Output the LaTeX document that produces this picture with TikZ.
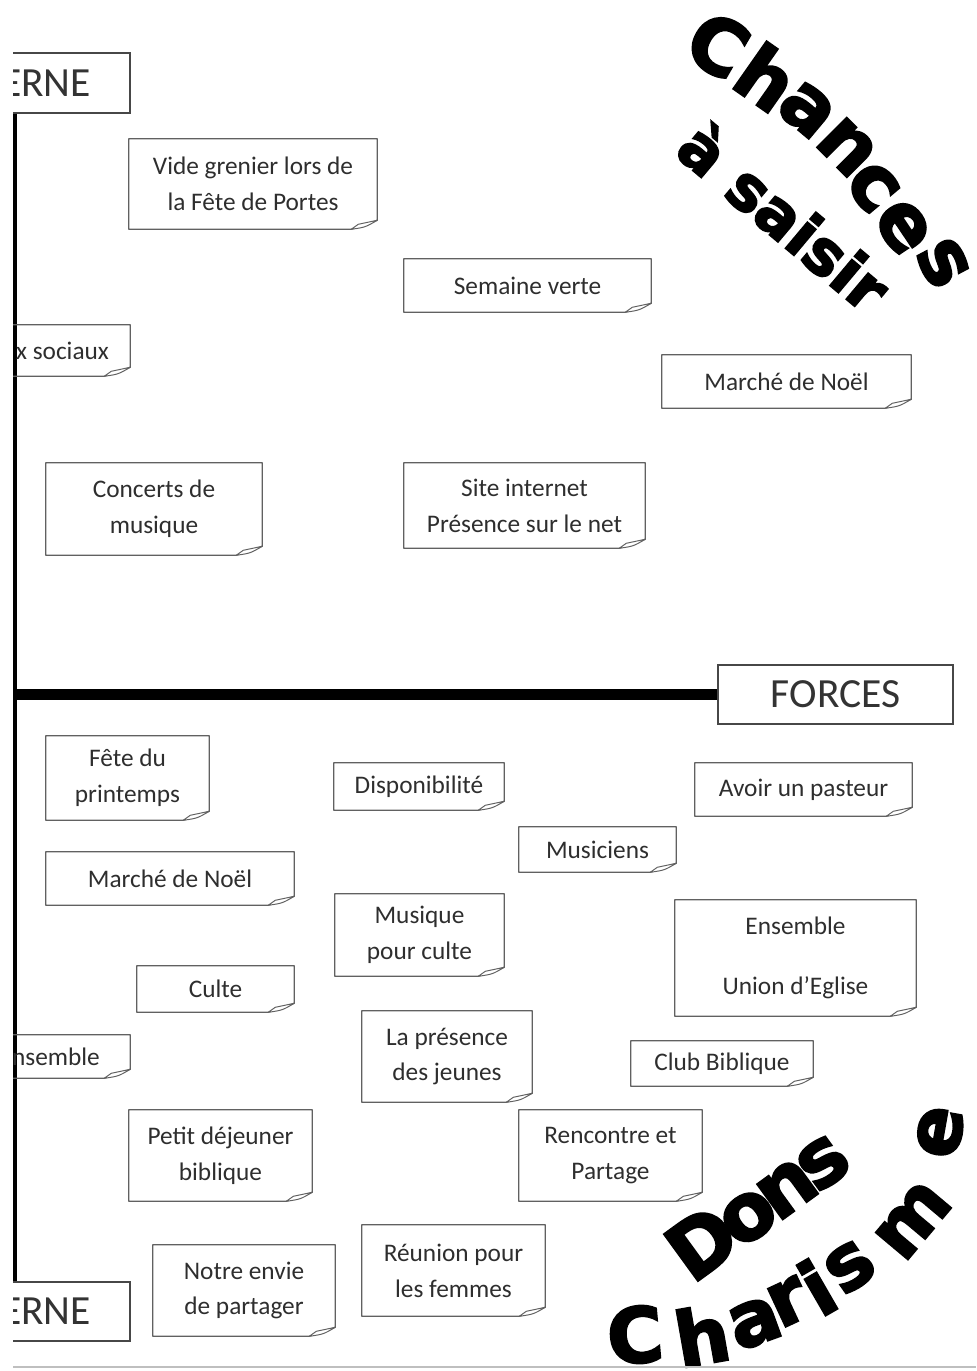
\documentclass[tikz,border=0pt]{standalone}
\usepackage{fontspec}
\setmainfont{Carlito}
\newfontfamily\heavyfont{DejaVu Sans Bold}[FakeBold=3]
\newfontfamily\tightfont{DejaVu Sans Bold}[FakeBold=3,LetterSpace=-9]

\begin{document}
\begin{tikzpicture}[x=0.025cm,y=-0.025cm,
	note/.style={inner sep=0pt,align=center,text=black!82,font=\fontsize{18}{25.5}\selectfont},
	noteline/.style={draw=black!62,line width=0.9pt,line join=round},
	labelbox/.style={draw=black!72,fill=white,line width=1pt,inner sep=0pt,text=black!80,font=\fontsize{29.5}{30}\selectfont},
	bigword/.style={inner sep=0pt,font=\heavyfont\fontsize{54}{54}\selectfont},
	midword/.style={inner sep=0pt,font=\heavyfont\fontsize{44}{44}\selectfont}]

\def\px{0.025cm}
\useasboundingbox (0,0) rectangle (976,1371);

\begin{scope}
\clip (13,15) rectangle (976,1371);

% axes
\node[labelbox,minimum width=168*\px,minimum height=60*\px] (erneT) at (46,83) {ERNE};
\node[labelbox,minimum width=168*\px,minimum height=59*\px] (erneB) at (46,1311.5) {ERNE};
\node[labelbox,minimum width=235*\px,minimum height=59*\px] (forces) at (835.5,694.5) {FORCES};
\coordinate (spine) at (15,0);
\draw[line width=3.5pt] (spine |- erneT.south) -- (spine |- erneB.north);
\draw[line width=7.5pt] (spine |- forces.west) -- (forces.west);

% post-it notes
\foreach \nm/\cx/\cy/\w/\h/\txt in {
	vide/253/184/248/90/{Vide grenier lors de\\la Fête de Portes},
	semaine/527.5/285.5/247/53/{Semaine verte},
	noelA/786.5/381.5/249/53/{Marché de Noël},
	sociaux/62.5/350.5/135/51/{x sociaux},
	concerts/154/509/216/92/{Concerts de\\musique},
	site/524.5/505.5/241/85/{Site internet\\Présence sur le net},
	fete/127.5/778/163/84/{Fête du\\printemps},
	dispo/419/786.5/170/47/{Disponibilité},
	pasteur/803.5/789.5/217/53/{Avoir un pasteur},
	musiciens/597.5/849.5/157/45/{Musiciens},
	noelB/170/878.5/248/53/{Marché de Noël},
	musique/419.5/935/169/82/{Musique\\pour culte},
	ensemble/795.5/958/241/116/{Ensemble\\[17pt]Union d’Eglise},
	culte/215.5/989/157/46/{Culte},
	nsemble/56/1056.5/148/43/{nsemble},
	jeunes/447/1056.5/170/91/{La présence\\des jeunes},
	club/722/1063.5/182/45/{Club Biblique},
	petit/220.5/1155.5/183/91/{Petit déjeuner\\biblique},
	rencontre/610.5/1155.5/183/91/{Rencontre et\\Partage},
	notre/244/1290.5/182/91/{Notre envie\\de partager},
	reunion/453.5/1270.5/183/91/{Réunion pour\\les femmes}}{
	\node[note,minimum width=\w*\px,minimum height=\h*\px] (\nm) at (\cx,\cy) {\txt};
	\draw[noteline] (\nm.north west) -- (\nm.north east) -- ([shift={(0,-9)}]\nm.south east)
		-- ([shift={(-26,0)}]\nm.south east) -- (\nm.south west) -- cycle;
	\draw[noteline,line width=0.7pt,fill=white] ([shift={(0,-9)}]\nm.south east)
		.. controls ([shift={(-12,-2)}]\nm.south east) .. ([shift={(-26,0)}]\nm.south east)
		-- ([shift={(-19,-5)}]\nm.south east) -- cycle;
}

% word art
\foreach \l/\x/\y/\r [count=\i] in {C/718/45/-30,h/767/77/-35,a/807/110/-40,n/847/147/-45,
	c/873/187/-50,e/903/227/-56,s/943/263/-62}{
	\node[bigword,rotate=\r] (chances\i) at (\x,\y) {\l};
}
\node[midword,rotate=-40] (saisir) at (785,216) {à saisir};

\node[inner sep=0pt,font=\tightfont\fontsize{56}{56}\selectfont,rotate=36] (dons) at (757,1203) {Dons};
\foreach \l/\x/\y/\r [count=\i] in {C/635/1335/5,h/702/1335/10,a/755/1323/20,r/788/1302/25,
	i/817/1287/30,s/850/1267/35,m/913/1220/50,e/940/1132/80}{
	\node[bigword,rotate=\r] (charisme\i) at (\x,\y) {\l};
}

\draw[black!25,line width=1pt] (13,1367) -- (976,1367);
\end{scope}

\end{tikzpicture}
\end{document}
